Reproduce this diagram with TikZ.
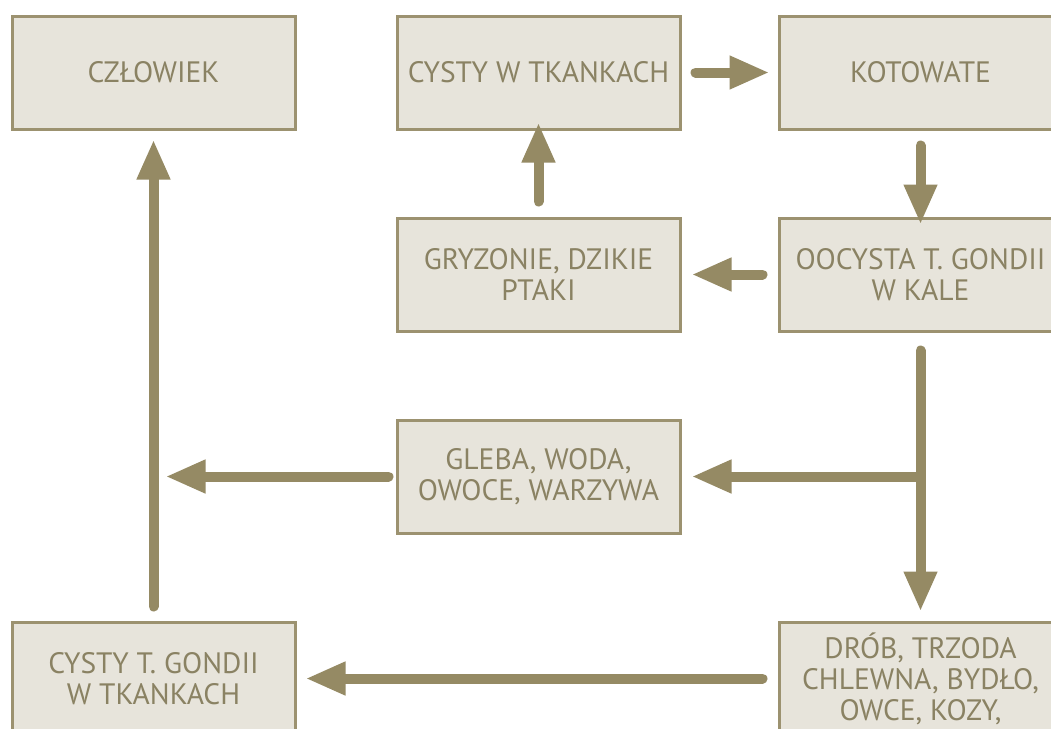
\documentclass[tikz,border=0pt]{standalone}
\usepackage{fontspec}
\setmainfont{PT Sans}
\usetikzlibrary{arrows.meta}
\definecolor{boxfill}{HTML}{E7E4DB}
\definecolor{boxline}{HTML}{9C9270}
\definecolor{txtc}{HTML}{8A8263}
\definecolor{arrc}{HTML}{958A64}
\tikzset{
  stage/.style={draw=boxline, line width=3pt, fill=boxfill, text=txtc,
    minimum width=283pt, minimum height=113pt, inner sep=0pt, align=center,
    font=\fontsize{29.5pt}{31pt}\selectfont},
  flow/.style={draw=arrc, line width=10pt, line cap=round,
    -{Triangle[width=31pt,length=40pt]}},
  flowline/.style={draw=arrc, line width=10pt, line cap=round}
}
\begin{document}
\begin{tikzpicture}[x=1pt,y=-1pt]
\useasboundingbox (0,0) rectangle (1051,728);
\clip (0,0) rectangle (1051,728);
\fill[white] (0,0) rectangle (1051,728);
\node[stage] (czl) at (153.5,72.5) {CZŁOWIEK};
\node[stage] (cwt) at (538.5,72.5) {CYSTY W TKANKACH};
\node[stage] (kot) at (920.5,72.5) {KOTOWATE};
\node[stage] (gry) at (538.5,274.5) {GRYZONIE, DZIKIE\\PTAKI};
\node[stage] (ooc) at (920.5,274.5) {OOCYSTA T. GONDII\\W KALE};
\node[stage] (gle) at (538.5,476.5) {GLEBA, WODA,\\OWOCE, WARZYWA};
\node[stage] (cgo) at (153.5,678.5) {CYSTY T. GONDII\\W TKANKACH};
\node[stage] (drob) at (920.5,678.5) {DRÓB, TRZODA\\CHLEWNA, BYDŁO,\\OWCE, KOZY,};
\coordinate (split) at (ooc.south |- gle.east);
% arrows
\draw[flow] ([xshift=14pt]cwt.east) -- ([xshift=-8pt]kot.west);
\draw[flow] ([yshift=-15pt]kot.south) -- ([yshift=-8pt]ooc.north);
\draw[flow] ([xshift=-15pt]ooc.west) -- ([xshift=10pt]gry.east);
\draw[flow] ([yshift=15pt]gry.north) -- ([yshift=8pt]cwt.south);
\draw[flowline] ([yshift=-18pt]ooc.south) -- (split);
\draw[flow] (split) -- ([yshift=9pt]drob.north);
\draw[flow] (split) -- ([xshift=10pt]gle.east);
\draw[flow] ([xshift=-7pt]gle.west) -- ([xshift=12pt]czl.south |- gle.west);
\draw[flow] ([xshift=-15pt]drob.west) -- ([xshift=9pt]cgo.east);
\draw[flow] ([yshift=14pt]cgo.north) -- ([yshift=-9pt]czl.south);
\end{tikzpicture}
\end{document}
